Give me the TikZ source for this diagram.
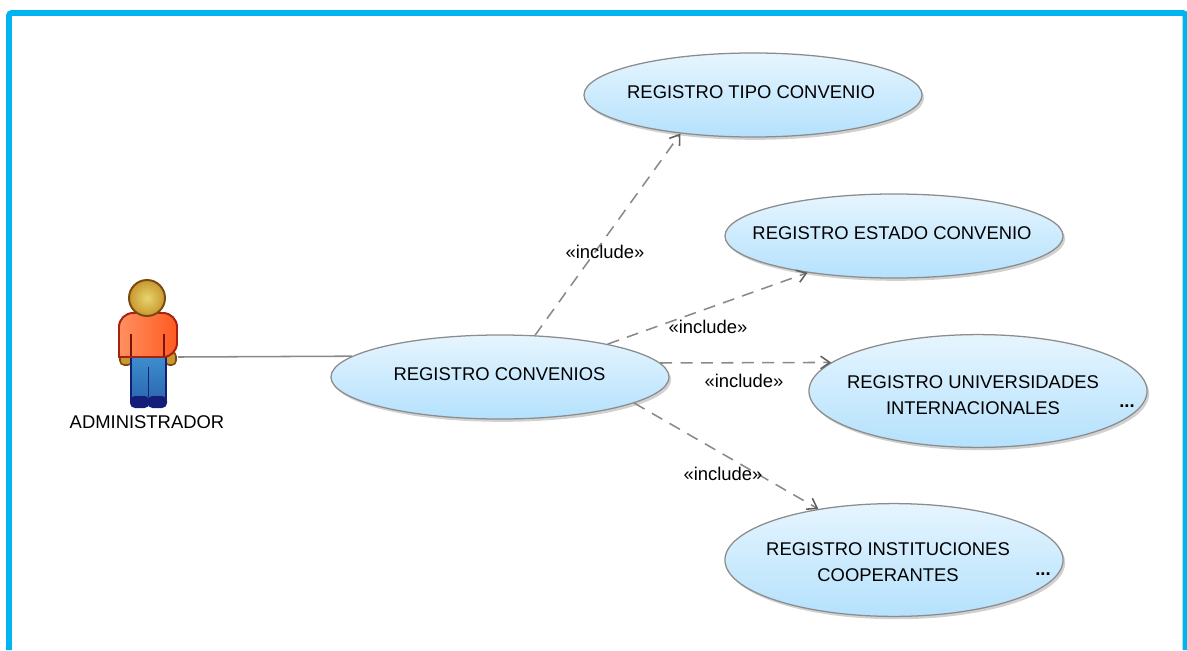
\documentclass[tikz,border=0pt]{standalone}
\usepackage{fontspec}
\setmainfont{Liberation Sans}
\usetikzlibrary{arrows.meta,shapes.geometric,shadows}
\definecolor{framecol}{HTML}{00B4F0}
\definecolor{casetop}{HTML}{E6F5FE}
\definecolor{casebot}{HTML}{B4E1FD}
\definecolor{caseline}{HTML}{8C8C8C}
\definecolor{linkcol}{HTML}{8A8A8A}
\definecolor{tipcol}{HTML}{606060}
\definecolor{skincol}{HTML}{E6D470}
\definecolor{skinout}{HTML}{C8982E}
\definecolor{skinline}{HTML}{7A4A10}
\definecolor{shirtl}{HTML}{FF9060}
\definecolor{shirtr}{HTML}{FF5A20}
\definecolor{shirtline}{HTML}{A82010}
\definecolor{jeanstop}{HTML}{3E8FD0}
\definecolor{jeansbot}{HTML}{2A68B0}
\definecolor{shoecol}{HTML}{141E78}
\tikzset{
  usecase/.style={ellipse,draw=caseline,line width=0.9pt,top color=casetop,bottom color=casebot,
    minimum width=8.45cm,inner sep=0pt,
    drop shadow={shadow xshift=1.5pt,shadow yshift=-2pt,opacity=0.18,fill=black}},
  smallcase/.style={usecase,minimum height=2.1cm},
  bigcase/.style={usecase,minimum height=2.82cm},
  casetext/.style={font=\fontsize{13.1}{18.5}\selectfont,align=center,text=black,inner sep=0pt},
  includelbl/.style={font=\fontsize{13.1}{16}\selectfont,text=black,inner sep=0pt},
  moredots/.style={font=\fontsize{13.1}{16}\selectfont\bfseries,inner sep=0pt},
  include/.style={-{Straight Barb[length=6.5pt,width=9pt,color=tipcol,line width=1.1pt]},dash pattern=on 8.5pt off 6pt,draw=linkcol,line width=1.1pt},
}
\begin{document}
\begin{tikzpicture}[x=0.025cm,y=-0.025cm]
  \useasboundingbox (0,0) rectangle (1187,650);
  \draw[framecol,line width=4.2pt,rounded corners=2pt] (9,650) -- (9,13) -- (1185.5,13) -- (1185.5,650);
  % use cases
  \node[smallcase] (conv) at (500,377) {};
  \node[smallcase] (tipo) at (753,95) {};
  \node[smallcase] (estado) at (894,236) {};
  \node[bigcase] (univ) at (978,391) {};
  \node[bigcase] (inst) at (894,560) {};
  \node[casetext] (convtxt) at (499.5,374) {REGISTRO CONVENIOS};
  \node[casetext] (tipotxt) at (751,92) {REGISTRO TIPO CONVENIO};
  \node[casetext] (estadotxt) at (892,233) {REGISTRO ESTADO CONVENIO};
  \node[casetext] (univtxt) at (973,395) {REGISTRO UNIVERSIDADES\\INTERNACIONALES};
  \node[casetext] (insttxt) at (888,562) {REGISTRO INSTITUCIONES\\COOPERANTES};
  \node[moredots] (univdots) at (1127,406) {...};
  \node[moredots] (instdots) at (1043,574) {...};
  % actor
  \draw[fill=skinout,draw=skinline,line width=1.1pt,rounded corners=3pt] (120,352) -- (120,365) -- (132,365) -- (132,352) -- cycle;
  \draw[fill=skinout,draw=skinline,line width=1.1pt,rounded corners=3pt] (165,352) -- (165,365) -- (176,365) -- (176,352) -- cycle;
  \draw[top color=jeanstop,bottom color=jeansbot,draw=shoecol,line width=1.2pt]
    (131,355) -- (131,400) -- (166,400) -- (166,355) -- cycle;
  \draw[shoecol,line width=1.2pt] (148.5,367) -- (148.5,397);
  \fill[shoecol,rounded corners=3.5pt] (130,396) rectangle (149.5,408);
  \fill[shoecol,rounded corners=3.5pt] (147.5,396) rectangle (167,408);
  \draw[left color=shirtl,right color=shirtr,draw=shirtline,line width=1.4pt,rounded corners=10pt]
    (119,357) -- (119,313) -- (177,313) -- (177,357) [sharp corners] -- cycle;
  \draw[shirtline!70!black,line width=1.2pt] (131,334) -- (131,356) (164,334) -- (164,356);
  \draw[inner color=skincol,outer color=skinout,draw=skinline,line width=1.4pt] (147,298) circle (18);
  \node[casetext] (admin) at (147,422) {ADMINISTRADOR};
  \coordinate (hand) at (178,357);
  % links
  \draw[linkcol,line width=1.1pt] (hand) -- (conv.172.3);
  \draw[include] (conv.50) -- (tipo.208);
  \draw[include] (conv.17) -- (estado.203);
  \draw[include] (conv.5.4) -- (univ.169.5);
  \draw[include] (conv.-11.5) -- (inst.146.5);
  \node[includelbl] (lbla) at (605,252) {«include»};
  \node[includelbl] (lblb) at (708,327) {«include»};
  \node[includelbl] (lblc) at (744,381) {«include»};
  \node[includelbl] (lbld) at (723,474) {«include»};
\end{tikzpicture}
\end{document}
